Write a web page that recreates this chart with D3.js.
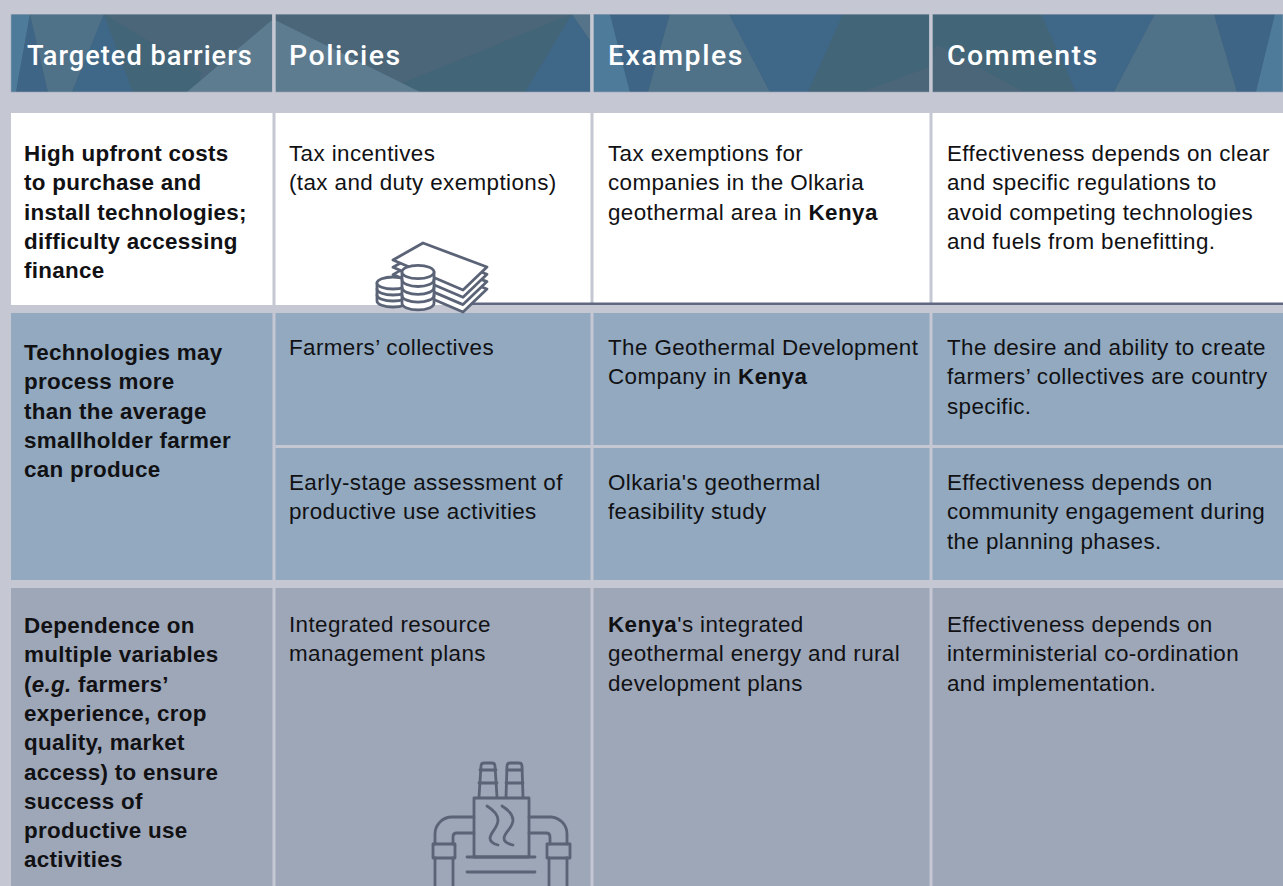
<!DOCTYPE html>
<html><head><meta charset="utf-8">
<script src="https://cdn.jsdelivr.net/npm/d3@7"></script>
<style>html,body{margin:0;padding:0;background:#c5c7d3;overflow:hidden}svg{display:block}
text{font-family:"Liberation Sans",Arial,sans-serif;fill:#111114}</style></head>
<body><svg id="c" width="1283" height="886"></svg>
<script>
const headers = ["Targeted barriers","Policies","Examples","Comments"];
// *x* marks bold runs, _x_ marks italic-bold runs
const barriers = [
 ["High upfront costs","to purchase and","install technologies;","difficulty accessing","finance"],
 ["Technologies may","process more","than the average","smallholder farmer","can produce"],
 ["Dependence on","multiple variables","(_e.g._ farmers’","experience, crop","quality, market","access) to ensure","success of","productive use","activities"]
];
const policies = [
 ["Tax incentives","(tax and duty exemptions)"],
 ["Farmers’ collectives"],
 ["Early-stage assessment of","productive use activities"],
 ["Integrated resource","management plans"]
];
const examples = [
 ["Tax exemptions for","companies in the Olkaria","geothermal area in *Kenya*"],
 ["The Geothermal Development","Company in *Kenya*"],
 ["Olkaria's geothermal","feasibility study"],
 ["*Kenya*'s integrated","geothermal energy and rural","development plans"]
];
const comments = [
 ["Effectiveness depends on clear","and specific regulations to","avoid competing technologies","and fuels from benefitting."],
 ["The desire and ability to create","farmers’ collectives are country","specific."],
 ["Effectiveness depends on","community engagement during","the planning phases."],
 ["Effectiveness depends on","interministerial co-ordination","and implementation."]
];

const svg = d3.select("#c");
const col = [{x0:11,x1:272.5},{x0:275.5,x1:590.5},{x0:593.5,x1:929.5},{x0:932.5,x1:1283}];
const textX = [24,289,608,947];
const head = {y0:14.5,y1:92};
const bands = [
 {y0:113,y1:305,fill:"#ffffff"},
 {y0:313,y1:580,fill:"#92a9c0"},
 {y0:588,y1:886,fill:"#9da7b8"}
];

// header
const tone = {a:"#4f7b9b",b:"#3e6585",c:"#4f7289",d:"#3f6788",e:"#436578",f:"#4a6678",g:"#5e7c8f",h:"#557489"};
const facets = [
 ["f","11,14 272,14 272,92 11,92"],
 ["a","11,14 30,14 16,92 11,92"],["b","30,14 48,92 16,92"],["c","30,14 104,14 72,92 48,92"],
 ["d","104,14 133,92 72,92"],["e","104,14 220,92 133,92"],["e","104,14 202,73 187,92 133,92"],["g","272,20 272,92 187,92"],
 ["f","275,14 590,14 590,92 275,92"],["e","572,14 525,92 380,92"],["g","275,20 420,92 275,92"],
 ["d","572,14 590,40 590,92 525,92"],["h","572,14 590,14 590,40"],
 ["e","593,14 929,14 929,92 593,92"],["a","593,14 610,14 630,92 593,92"],["b","610,14 670,14 648,92 630,92"],
 ["c","670,14 729,14 770,92 648,92"],["d","729,14 843,14 808,92 770,92"],["f","929,67 929,92 862,92"],
 ["e","932,14 1283,14 1283,92 932,92"],["f","932,50 938,45 1024,92 932,92"],
 ["d","1041,14 1155,14 1114,92 1076,92"],["c","1155,14 1214,14 1237,92 1114,92"],
 ["b","1214,14 1275,14 1256,92 1237,92"],["a","1275,14 1283,14 1283,92 1256,92"]
];
svg.append("g").selectAll("polygon").data(facets).join("polygon")
  .attr("points",d=>d[1]).attr("fill",d=>tone[d[0]]);
svg.append("g").selectAll("rect").data(col).join("rect")
  .attr("x",d=>d.x0).attr("y",head.y0).attr("width",d=>d.x1-d.x0).attr("height",head.y1-head.y0)
  .attr("fill","none").attr("stroke","#9aa6b6").attr("stroke-width",0.6);
svg.append("g").selectAll("rect").data([[272.5,275.5],[590.5,593.5],[929.5,932.5]]).join("rect")
  .attr("x",d=>d[0]).attr("y",14).attr("width",d=>d[1]-d[0]).attr("height",78.5).attr("fill","#c5c7d3");
svg.append("g").selectAll("text").data(headers).join("text")
  .attr("x",(d,i)=>textX[i]+(i==0?3:0)).attr("y",65).text(d=>d)
  .style("font-family","Roboto").style("font-weight",500)
  .style("font-size",(d,i)=>i==0?"27.2px":"28.5px")
  .style("letter-spacing",(d,i)=>i==0?"1px":"1.5px").style("fill","#fff");

// body bands
svg.append("g").selectAll("rect").data(bands).join("rect")
  .attr("x",11).attr("y",d=>d.y0).attr("width",1272).attr("height",d=>d.y1-d.y0).attr("fill",d=>d.fill);
svg.append("g").selectAll("rect").data(col.slice(0,3)).join("rect")
  .attr("x",d=>d.x1).attr("y",113).attr("width",3).attr("height",773).attr("fill","#c5c7d3");
svg.append("rect").attr("x",275.5).attr("y",445).attr("width",1008).attr("height",3).attr("fill","#c5c7d3");
svg.append("rect").attr("x",462).attr("y",302.5).attr("width",821).attr("height",2.5).attr("fill","#5f6880");

// text
function block(lines,x,y,bold){
  const t=svg.append("g");
  lines.forEach((ln,i)=>{
    const el=t.append("text").attr("x",x).attr("y",y+i*29.3)
      .style("font-size",bold?"22.4px":"22.4px").style("letter-spacing",bold?"0.3px":"0.4px");
    ln.split(/(\*[^*]+\*|_[^_]+_)/).filter(s=>s).forEach(s=>{
      const span=el.append("tspan");
      if(s[0]=="*"){span.text(s.slice(1,-1)).style("font-weight",700);}
      else if(s[0]=="_"){span.text(s.slice(1,-1)).style("font-weight",700).style("font-style","italic");}
      else {span.text(s).style("font-weight",bold?700:400);}
    });
  });
}
const col1Y=[161,360,633], rowY=[161,355,490,632];
barriers.forEach((b,i)=>block(b,textX[0],col1Y[i],true));
[policies,examples,comments].forEach((c,k)=>c.forEach((b,i)=>block(b,textX[k+1],rowY[i],false)));

// icons
const ink="#5b6377", sw=2.8;
const ic=svg.append("g").attr("fill","none").attr("stroke",ink).attr("stroke-width",sw).attr("stroke-linejoin","round").attr("stroke-linecap","round");
[22,14.6,7.3,0].forEach(dy=>{
  ic.append("path").attr("fill","#fff").attr("d",`M423,${243+dy} L487,${267+dy} L463,${290+dy} L393,${260+dy} Z`);
});
const coin=(cx,top,rx,ry,levels,step)=>{
  ic.append("path").attr("fill","#fff").attr("d",`M${cx-rx},${top} V${top+levels*step} A${rx},${ry} 0 0 0 ${cx+rx},${top+levels*step} V${top} Z`);
  for(let i=1;i<levels;i++) ic.append("path").attr("d",`M${cx-rx},${top+i*step} A${rx},${ry} 0 0 0 ${cx+rx},${top+i*step}`);
  ic.append("ellipse").attr("cx",cx).attr("cy",top).attr("rx",rx).attr("ry",ry).attr("fill","#fff");
};
coin(393,283,16,6,3,6);
coin(418,272,16,6.7,4,7.8);

// plant
const pl=svg.append("g").attr("fill","none").attr("stroke",ink).attr("stroke-width",sw).attr("stroke-linecap","round").attr("stroke-linejoin","round");
["M474,798 H529 V857 H474 Z",
 "M467,857 H535","M467,872 H535",
 "M479,797 L481,766 Q481,763 484,763 H492 Q495,763 495,766 L497,797","M480,770 H496","M479,783 H497",
 "M506,797 L507,766 Q507,763 510,763 H519 Q522,763 522,766 L523,797","M507,770 H522","M506,783 H523",
 "M487,806 C495,811 498,815 498,820 C498,828 491,831 490,838 C490,842 494,844 498,845",
 "M502,806 C510,811 513,815 513,820 C513,828 505,831 504,838 C504,842 508,844 513,845",
 "M474,817 H452 A17,17 0 0 0 435,834 V844","M474,833 H457 Q453,833 453,837 V844",
 "M433,844 H455 V858 H433 Z","M435,858 V886","M453,858 V886",
 "M529,817 H551 A17,17 0 0 1 567,834 V844","M529,833 H546 Q550,833 550,837 V844",
 "M547,844 H570 V858 H547 Z","M549,858 V886","M567,858 V886"
].forEach(d=>pl.append("path").attr("d",d));
</script></body></html>
